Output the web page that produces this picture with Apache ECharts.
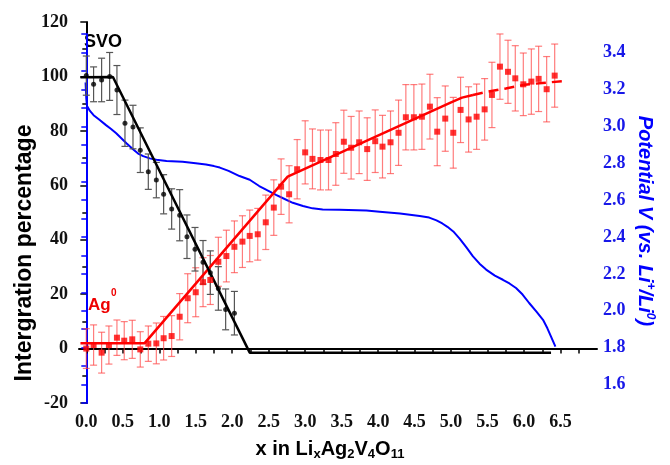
<!DOCTYPE html>
<html><head><meta charset="utf-8">
<script src="https://cdn.jsdelivr.net/npm/echarts@6/dist/echarts.min.js"></script>
<style>html,body{margin:0;padding:0;background:#fff}#c{width:670px;height:465px}</style>
</head><body><div id="c"></div>
<script>
// ---- data ----
const xTickLabels = [0, 0.5, 1.0, 1.5, 2.0, 2.5, 3.0, 3.5, 4.0, 4.5, 5.0, 5.5, 6.0, 6.5];
const xMinorTicks = [0, 0.25, 0.5, 0.75, 1.0, 1.25, 1.5, 1.75, 2.0, 2.25, 2.5, 2.75, 3.0, 3.25, 3.5, 3.75, 4.0, 4.25, 4.5, 4.75, 5.0, 5.25, 5.5, 5.75, 6.0, 6.25, 6.5, 6.75];

const svoX = [0.00, 0.10, 0.21, 0.32, 0.42, 0.53, 0.64, 0.74, 0.85, 0.96, 1.06, 1.17, 1.28, 1.38, 1.49, 1.60, 1.70, 1.81, 1.91, 2.03];
const svoY = [100.3, 97.1, 98.7, 100.0, 95.0, 82.8, 81.4, 72.9, 65.0, 61.9, 56.7, 51.3, 49.0, 41.1, 36.5, 31.7, 27.9, 22.1, 14.4, 13.0];
const svoErr = [7.2, 6.4, 8.0, 8.8, 9.0, 8.5, 8.0, 8.2, 6.5, 6.5, 7.2, 7.4, 9.4, 8.0, 8.0, 8.0, 8.0, 8.0, 7.5, 8.0];

const agX = [0.00, 0.10, 0.21, 0.31, 0.42, 0.52, 0.63, 0.74, 0.85, 0.96, 1.06, 1.17, 1.28, 1.39, 1.50, 1.60, 1.70, 1.81, 1.92, 2.03,
             2.14, 2.24, 2.35, 2.46, 2.57, 2.67, 2.78, 2.89, 3.00, 3.10, 3.21, 3.32, 3.42, 3.53, 3.63, 3.74, 3.85, 3.96, 4.06, 4.17,
             4.28, 4.38, 4.49, 4.60, 4.71, 4.81, 4.92, 5.03, 5.13, 5.24, 5.35, 5.46, 5.56, 5.67, 5.78, 5.88, 5.99, 6.10, 6.20, 6.31, 6.42];
const agY = [0.0, 1.3, -1.5, 1.3, 4.0, 2.9, 3.4, -0.3, 1.8, 1.9, 3.8, 4.6, 11.7, 18.5, 20.7, 24.4, 25.2, 31.9, 34.0, 37.4,
             39.3, 41.4, 42.0, 46.4, 51.8, 59.5, 56.7, 65.9, 72.1, 69.7, 69.3, 69.3, 71.5, 76.0, 73.8, 75.8, 73.3, 76.2, 74.2, 75.8,
             79.3, 85.0, 85.0, 85.2, 88.9, 79.7, 84.5, 79.3, 87.7, 84.2, 85.2, 87.9, 93.2, 103.6, 101.7, 99.3, 97.1, 98.1, 99.1, 95.3, 100.3];
const agErr = [7.3, 7.4, 7.5, 7.0, 6.5, 7.0, 7.0, 6.5, 6.5, 7.5, 8.0, 7.5, 8.5, 9.0, 9.0, 9.0, 9.0, 9.0, 9.5, 9.5,
               9.5, 9.5, 9.5, 10.0, 10.2, 10.2, 10.5, 10.9, 11.6, 11.0, 11.0, 11.0, 11.5, 11.6, 11.5, 11.5, 11.5, 11.5, 11.5, 11.5,
               12.0, 12.0, 12.0, 12.0, 11.9, 12.5, 12.0, 13.0, 12.0, 12.0, 12.0, 11.3, 12.0, 12.0, 11.6, 12.0, 11.5, 12.0, 12.0, 12.0, 11.6];

const svoFitX = [-0.08, 0.365, 2.24, 6.37];
const svoFitY = [99.7, 99.8, -1.5, -1.5];
const agFitX = [-0.08, 0.80, 2.76, 5.00, 5.15, 5.30];
const agFitY = [2.0, 2.0, 63.2, 90.5, 92.2, 93.2];
const agFitDashX = [5.30, 5.50, 5.75, 6.00, 6.25, 6.55];
const agFitDashY = [93.2, 94.4, 95.6, 96.9, 97.6, 98.3];

const potX = [-0.01, 0.00, 0.01, 0.05, 0.10, 0.18, 0.27, 0.34, 0.41, 0.48, 0.55, 0.64, 0.71, 0.78, 0.87, 0.96, 1.10, 1.32, 1.50, 1.64, 1.75, 1.83, 1.95, 2.10,
              2.24, 2.37, 2.47, 2.60, 2.69, 2.83, 2.97, 3.10, 3.24, 3.47, 3.84, 4.02, 4.30, 4.57, 4.70, 4.80, 4.88, 4.95, 5.03, 5.12, 5.21, 5.30,
              5.39, 5.48, 5.60, 5.71, 5.80, 5.89, 5.98, 6.07, 6.17, 6.26, 6.32, 6.37, 6.43];
const potV = [3.237, 3.15, 3.11, 3.083, 3.06, 3.035, 3.006, 2.985, 2.962, 2.935, 2.908, 2.875, 2.852, 2.838, 2.826, 2.818, 2.812, 2.807, 2.800, 2.793, 2.784, 2.776, 2.758, 2.730,
              2.710, 2.676, 2.655, 2.628, 2.611, 2.585, 2.568, 2.555, 2.549, 2.548, 2.543, 2.537, 2.527, 2.513, 2.505, 2.490, 2.473, 2.455, 2.430, 2.390, 2.343, 2.295,
              2.255, 2.223, 2.190, 2.168, 2.148, 2.123, 2.088, 2.042, 1.995, 1.951, 1.905, 1.860, 1.806];

// ---- build ----
const zip = (a, b) => a.map((v, i) => [v, b[i]]);
const errData = (xs, ys, es) => xs.map((v, i) => [v, ys[i] - es[i], ys[i] + es[i]]);

function errRender(color) {
  return function (params, api) {
    const x = api.value(0), lo = api.value(1), hi = api.value(2);
    const p1 = api.coord([x, lo]), p2 = api.coord([x, hi]);
    const w = 3.5;
    const style = { stroke: color, lineWidth: 1.2 };
    return { type: 'group', children: [
      { type: 'line', shape: { x1: p1[0], y1: p1[1], x2: p2[0], y2: p2[1] }, style: style },
      { type: 'line', shape: { x1: p1[0] - w, y1: p1[1], x2: p1[0] + w, y2: p1[1] }, style: style },
      { type: 'line', shape: { x1: p2[0] - w, y1: p2[1], x2: p2[0] + w, y2: p2[1] }, style: style }
    ]};
  };
}

const serif = '"Liberation Serif", "Times New Roman", serif';
const sans = '"Liberation Sans", Arial, sans-serif';
const blue = '#0000ff';

const chart = echarts.init(document.getElementById('c'), null, { renderer: 'canvas' });
chart.setOption({
  animation: false,
  backgroundColor: '#fff',
  grid: [
    { left: 79, right: 73, top: 22, bottom: 62 },
    { left: 79, right: 73, top: 34, bottom: 62 }
  ],
  xAxis: [
    { gridIndex: 0, type: 'value', min: -0.1, max: 7.0,
      axisLine: { show: true, lineStyle: { color: '#000', width: 2 } },
      axisTick: { show: true, customValues: xMinorTicks, length: 5, lineStyle: { color: '#000', width: 1.5 } },
      axisLabel: { customValues: xTickLabels, formatter: v => v.toFixed(1), color: '#111',
        fontFamily: serif, fontWeight: 'bold', fontSize: 18, margin: 10 },
      splitLine: { show: false } },
    { gridIndex: 1, type: 'value', min: -0.1, max: 7.0, show: false }
  ],
  yAxis: [
    { gridIndex: 0, type: 'value', min: -20, max: 120, interval: 20,
      axisLine: { show: true, lineStyle: { color: '#000', width: 2 } },
      axisTick: { show: true, length: 6, lineStyle: { color: '#000', width: 1.5 } },
      minorTick: { show: true, splitNumber: 2, length: 4, lineStyle: { color: '#000', width: 1.5 } },
      axisLabel: { color: '#111', fontFamily: serif, fontWeight: 'bold', fontSize: 18, margin: 11 },
      splitLine: { show: false } },
    { gridIndex: 1, type: 'value', position: 'right', min: 1.5, max: 3.5, interval: 0.1,
      axisLine: { show: true, lineStyle: { color: blue, width: 2 } },
      axisTick: { show: true, inside: true, length: 5, lineStyle: { color: blue, width: 1.5 } },
      axisLabel: { color: '#1818e8', fontFamily: serif, fontWeight: 'bold', fontSize: 18, margin: 6,
        formatter: v => { const t = Math.round(v * 10); return (t % 2 === 0 && t >= 16 && t <= 34) ? (t / 10).toFixed(1) : ''; } },
      splitLine: { show: false } }
  ],
  series: [
    { type: 'line', xAxisIndex: 1, yAxisIndex: 1, data: zip(potX, potV), showSymbol: false, symbol: 'none',
      lineStyle: { color: blue, width: 2 }, z: 1 },
    { type: 'custom', xAxisIndex: 0, yAxisIndex: 0, data: errData(agX, agY, agErr),
      encode: { x: 0, y: [1, 2] }, renderItem: errRender('rgba(255,70,70,0.7)'), z: 2 },
    { type: 'custom', xAxisIndex: 0, yAxisIndex: 0, data: errData(svoX, svoY, svoErr),
      encode: { x: 0, y: [1, 2] }, renderItem: errRender('#555'), z: 2 },
    { type: 'line', xAxisIndex: 0, yAxisIndex: 0, data: zip(agFitX, agFitY), symbol: 'none',
      lineStyle: { color: '#ff0000', width: 2.5 }, z: 3 },
    { type: 'line', xAxisIndex: 0, yAxisIndex: 0, data: zip(agFitDashX, agFitDashY), symbol: 'none',
      lineStyle: { color: '#ff0000', width: 2.5, type: [10, 6] }, z: 3 },
    { type: 'line', xAxisIndex: 0, yAxisIndex: 0, data: zip(svoFitX, svoFitY), symbol: 'none',
      lineStyle: { color: '#000', width: 2.5 }, z: 3 },
    { type: 'scatter', xAxisIndex: 0, yAxisIndex: 0, data: zip(agX, agY), symbol: 'rect', symbolSize: 6,
      itemStyle: { color: '#ff0000' }, z: 4 },
    { type: 'scatter', xAxisIndex: 0, yAxisIndex: 0, data: zip(svoX, svoY), symbol: 'circle', symbolSize: 5,
      itemStyle: { color: '#000' }, z: 4 }
  ],
  graphic: [
    { type: 'text', left: 84, top: 33, style: { text: 'SVO', fill: '#000', font: 'bold 18px ' + sans } },
    { type: 'text', left: 88, top: 297, style: { text: 'Ag', fill: '#ee0000', font: 'bold 17px ' + sans } },
    { type: 'text', left: 111, top: 288, style: { text: '0', fill: '#ee0000', font: 'bold 10px ' + sans } },
    { type: 'text', x: 25, y: 253, rotation: Math.PI / 2,
      style: { text: 'Intergration percentage', fill: '#000', font: 'bold 23px ' + sans, align: 'center', verticalAlign: 'middle' } },
    { type: 'text', x: 645, y: 221, rotation: -Math.PI / 2,
      style: { text: 'Potential V (vs. Li{sup|+}/Li{sup|0})', fill: blue, font: 'italic bold 20px ' + sans, align: 'center', verticalAlign: 'middle',
        rich: { sup: { fontSize: 12, fontStyle: 'italic', fontWeight: 'bold', fontFamily: sans, fill: blue, padding: [0, 0, 10, 0] } } } },
    { type: 'text', x: 330, y: 449,
      style: { text: 'x in Li{sub|x}Ag{sub|2}V{sub|4}O{sub|11}', fill: '#000', font: 'bold 20px ' + sans, align: 'center', verticalAlign: 'middle',
        rich: { sub: { fontSize: 13, fontWeight: 'bold', fontFamily: sans, fill: '#000', padding: [10, 0, 0, 0] } } } }
  ]
});
</script>
</body></html>
